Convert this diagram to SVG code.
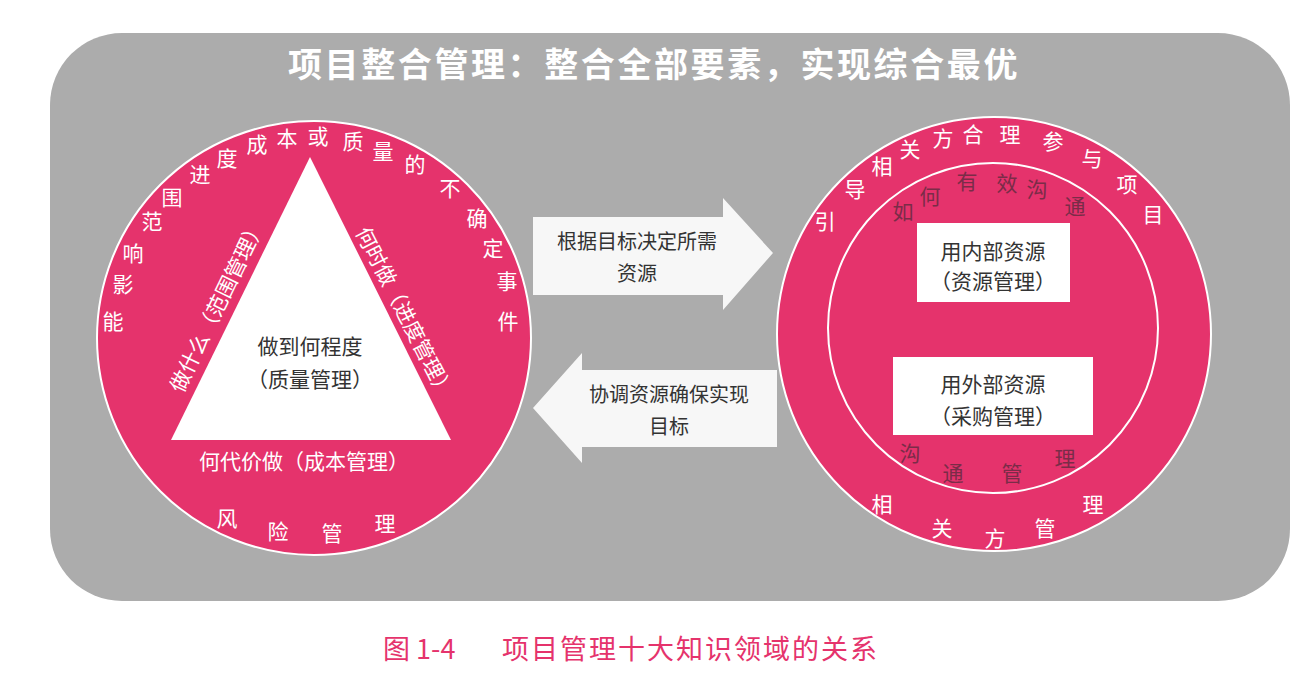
<svg xmlns="http://www.w3.org/2000/svg" width="1308" height="686" viewBox="0 0 1308 686">
<style>
text{font-family:"Noto Sans CJK SC","Noto Sans",sans-serif;dominant-baseline:central;text-anchor:middle}
.arc{fill:#ffffff;font-size:21px}
.dark{fill:#7a2c48;font-size:21px}
.w{fill:#ffffff;font-size:21px}
.b{fill:#333333;font-size:21px}
.pink{fill:#e5336c;stroke:#ffffff;stroke-width:2}
.box{fill:#ffffff}
.arrow{fill:#f7f7f7}
.cap{font-size:27px;fill:#e5336c;text-anchor:start}
</style>
<rect width="1308" height="686" fill="#ffffff"/>
<rect id="frame" x="50" y="33" width="1240" height="568" rx="72" fill="#acacac"/>
<text id="title" x="654" y="62" style="font-size:34px;font-weight:bold;fill:#ffffff;letter-spacing:2.6px">项目整合管理：整合全部要素，实现综合最优</text>

<g id="left-circle">
<circle class="pink" cx="314" cy="338" r="217"/>
<polygon points="310,157 171,440 451,440" fill="#ffffff"/>
<text class="arc" x="113" y="320">能</text>
<text class="arc" x="123" y="283">影</text>
<text class="arc" x="133" y="252">响</text>
<text class="arc" x="152" y="220">范</text>
<text class="arc" x="172" y="196">围</text>
<text class="arc" x="200" y="173">进</text>
<text class="arc" x="227" y="157">度</text>
<text class="arc" x="257" y="143">成</text>
<text class="arc" x="287" y="137">本</text>
<text class="arc" x="318" y="135">或</text>
<text class="arc" x="353" y="140">质</text>
<text class="arc" x="383" y="150">量</text>
<text class="arc" x="415" y="163">的</text>
<text class="arc" x="450" y="187">不</text>
<text class="arc" x="477" y="217">确</text>
<text class="arc" x="493" y="247">定</text>
<text class="arc" x="507" y="280">事</text>
<text class="arc" x="508" y="320">件</text>
<text class="arc" x="227" y="517">风</text>
<text class="arc" x="278" y="530">险</text>
<text class="arc" x="332" y="532">管</text>
<text class="arc" x="385" y="522">理</text>
<text class="w" x="216" y="305" transform="rotate(-64 216 305)">做什么（范围管理）</text>
<text class="w" x="406" y="312" transform="rotate(63 406 312)">何时做（进度管理）</text>
<text class="w" x="304" y="460">何代价做（成本管理）</text>
<text class="b" x="310" y="345">做到何程度</text>
<text class="b" x="310" y="378">（质量管理）</text>
</g>

<g id="right-circle">
<circle class="pink" cx="994" cy="334" r="217"/>
<circle cx="993" cy="328" r="165" fill="none" stroke="#ffffff" stroke-width="2"/>
<text class="arc" x="825" y="220">引</text>
<text class="arc" x="855" y="188">导</text>
<text class="arc" x="882" y="165">相</text>
<text class="arc" x="910" y="148">关</text>
<text class="arc" x="943" y="137">方</text>
<text class="arc" x="973" y="133">合</text>
<text class="arc" x="1010" y="133">理</text>
<text class="arc" x="1053" y="140">参</text>
<text class="arc" x="1092" y="157">与</text>
<text class="arc" x="1127" y="183">项</text>
<text class="arc" x="1153" y="213">目</text>
<text class="dark" x="903" y="210">如</text>
<text class="dark" x="930" y="195">何</text>
<text class="dark" x="967" y="180">有</text>
<text class="dark" x="1007" y="182">效</text>
<text class="dark" x="1037" y="188">沟</text>
<text class="dark" x="1075" y="205">通</text>
<text class="dark" x="910" y="452">沟</text>
<text class="dark" x="953" y="472">通</text>
<text class="dark" x="1012" y="472">管</text>
<text class="dark" x="1065" y="457">理</text>
<text class="arc" x="882" y="503">相</text>
<text class="arc" x="942" y="527">关</text>
<text class="arc" x="995" y="537">方</text>
<text class="arc" x="1045" y="527">管</text>
<text class="arc" x="1093" y="503">理</text>
</g>

<g id="box-internal">
<rect class="box" x="917" y="223" width="153" height="79"/>
<text class="b" x="993" y="250">用内部资源</text>
<text class="b" x="993" y="280">（资源管理）</text>
</g>
<g id="box-external">
<rect class="box" x="893" y="357" width="200" height="78"/>
<text class="b" x="993" y="383">用外部资源</text>
<text class="b" x="993" y="415">（采购管理）</text>
</g>

<g id="connectors">
<g id="arrow-right">
<polygon class="arrow" points="533,217 723,217 723,198 773,253 723,310 723,295 533,295"/>
<text class="b" x="637" y="240" style="font-size:20px">根据目标决定所需</text>
<text class="b" x="637" y="272" style="font-size:20px">资源</text>
</g>
<g id="arrow-left">
<polygon class="arrow" points="777,370 582,370 582,353 533,408 582,463 582,447 777,447"/>
<text class="b" x="669" y="393" style="font-size:20px">协调资源确保实现</text>
<text class="b" x="669" y="425" style="font-size:20px">目标</text>
</g>
</g>

<g id="caption">
<text class="cap" x="383" y="647">图 1-4</text>
<text class="cap" x="502" y="647" style="letter-spacing:2px">项目管理十大知识领域的关系</text>
</g>
</svg>
